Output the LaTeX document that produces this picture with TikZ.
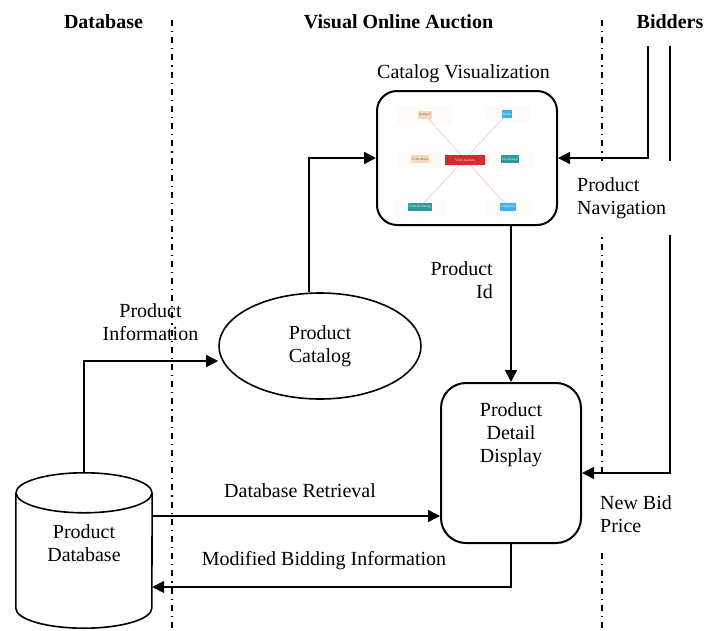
\documentclass[tikz,border=0pt]{standalone}
\usepackage{fontspec}
\setmainfont{Liberation Serif}
\usetikzlibrary{arrows.meta,shapes.geometric}
\definecolor{peach}{HTML}{F6D8BE}
\definecolor{peachtxt}{HTML}{9A5A3A}
\definecolor{skyb}{HTML}{3CB2EA}
\definecolor{tealb}{HTML}{2E9A98}
\definecolor{hubred}{HTML}{D42A30}
\definecolor{spoke}{HTML}{F4D2D2}
\definecolor{halo}{HTML}{FDFAF7}
\begin{document}
\begin{tikzpicture}[x=1pt,y=-1pt,
  every node/.style={font=\fontsize{20}{23}\selectfont},
  lane/.style={line width=1.2pt, dash pattern=on 6pt off 5pt on 1.2pt off 5pt},
  head/.style={font=\fontsize{20}{23}\selectfont\bfseries, anchor=base, inner sep=0},
  conn/.style={line width=1.6pt},
  arr/.style={conn, -{Triangle[length=12pt,width=12pt]}},
  procbox/.style={draw, line width=2pt, inner sep=0},
  lbl/.style={inner sep=0, align=center},
  maskedlbl/.style={fill=white, align=left, inner xsep=5pt, anchor=west},
  tag/.style={inner sep=0.9pt, font=\fontsize{3.4}{4}\selectfont, minimum height=7.5pt},
]
\useasboundingbox (0,0) rectangle (705,630);

% swimlane headers
\node[head] (hdb)  at (103.5,28) {Database};
\node[head] (hvoa) at (398.5,28) {Visual Online Auction};
\node[head] (hbid) at (670,28) {Bidders};

% swimlane separators
\coordinate (laneAtop) at (172,20);
\coordinate (laneAbot) at (172,630);
\coordinate (laneBtop) at (602,20);
\coordinate (laneBbot) at (602,630);
\draw[lane] (laneAtop) -- (laneAbot);
\draw[lane] (laneBtop) -- (laneBbot);

% catalog visualization panel
\node[lbl, anchor=base] (cvl) at (463.5,78) {Catalog Visualization};
\node[procbox, rounded corners=20pt, minimum width=180pt, minimum height=134pt] (cv) at (467,158) {};

% thumbnail of the category map
\coordinate (pAnt) at (425,115);
\coordinate (pBk) at (507,114);
\coordinate (pCol) at (420,159);
\coordinate (pEl) at (510,159);
\coordinate (pCoin) at (420,207);
\coordinate (pCmp) at (508,207);
\fill[halo] (397,106) rectangle (452,124);
\fill[halo] (485,106) rectangle (530,122);
\fill[halo] (397,151) rectangle (446,168);
\fill[halo] (485,151) rectangle (535,168);
\fill[halo] (395,199) rectangle (446,216);
\fill[halo] (485,199) rectangle (532,216);
\draw[spoke, line width=0.9pt] (pAnt) -- (pCmp);
\draw[spoke, line width=0.9pt] (pBk) -- (pCoin);
\node[tag, fill=hubred, text=white, minimum width=40pt, minimum height=10pt] (hub) at (465,160) {VOA Auction};
\node[tag, fill=peach, text=peachtxt] (tAnt) at (pAnt) {Antiques};
\node[tag, fill=skyb, text=white] (tBk) at (pBk) {Books};
\node[tag, fill=peach, text=peachtxt] (tCol) at (pCol) {Collectibles};
\node[tag, fill=tealb, text=white] (tEl) at (pEl) {Electronics};
\node[tag, fill=tealb, text=white] (tCoin) at (pCoin) {Coins \& Stamps};
\node[tag, fill=skyb, text=white] (tCmp) at (pCmp) {Computers};

% product catalog
\node[draw, ellipse, line width=1.6pt, minimum width=202pt, minimum height=106pt,
      inner sep=0, align=center] (pc) at (320,346) {Product\\Catalog};

% product detail display
\node[procbox, rounded corners=25pt, minimum width=140pt, minimum height=160pt] (pdd) at (511,463) {};
\node[lbl] (pddtext) at (511,435) {Product\\Detail\\Display};

% product database cylinder
\node[inner sep=0, minimum width=136pt, minimum height=115pt] (db) at (84,550.5) {};
\draw[line width=1.6pt] (db.north west) -- (db.south west)
  arc[start angle=180, end angle=360, x radius=68pt, y radius=20pt] -- (db.north east);
\draw[line width=1.6pt] (db.north) ellipse[x radius=68pt, y radius=20pt];
\node[lbl] (dbtext) at (84,543) {Product\\Database};

% data flows
\coordinate (dbtop) at ([yshift=20pt]db.north);
\coordinate (dbr) at ([yshift=34.5pt]db.east);
\coordinate (dbm) at ([yshift=-36.5pt]db.east);
\coordinate (bidA) at (648,46);
\coordinate (bidB) at (670,46);
\coordinate (pcin) at ([yshift=-15pt]pc.west);
\coordinate (pcout) at ([xshift=-11pt]pc.north);
\coordinate (pddin) at ([yshift=-10pt]pdd.east);

\draw[arr] (dbtop) |- (pcin);
\draw[arr] (pcout) |- (cv.west);
\draw[arr] (bidA) |- (cv.east);
\draw[arr] (cv.south -| pdd.north) -- (pdd.north);
\draw[arr] (bidB) |- (pddin);
\draw[arr] (dbr) -- (dbr -| pdd.west);
\draw[arr] (pdd.south) |- (dbm);

% flow labels
\node[lbl] (lInfo) at (150.5,322) {Product\\Information};
\node[lbl, align=right, anchor=east] (lId) at (493,280) {Product\\Id};
\node[lbl, anchor=base] (lRet) at (300,497) {Database Retrieval};
\node[lbl, anchor=base] (lMod) at (324,565) {Modified Bidding Information};
\node[maskedlbl, inner ysep=16pt] (lNav) at (572,198) {Product\\Navigation};
\node[maskedlbl, inner ysep=18pt] (lBid) at (595,514) {New Bid\\Price};
\end{tikzpicture}
\end{document}
